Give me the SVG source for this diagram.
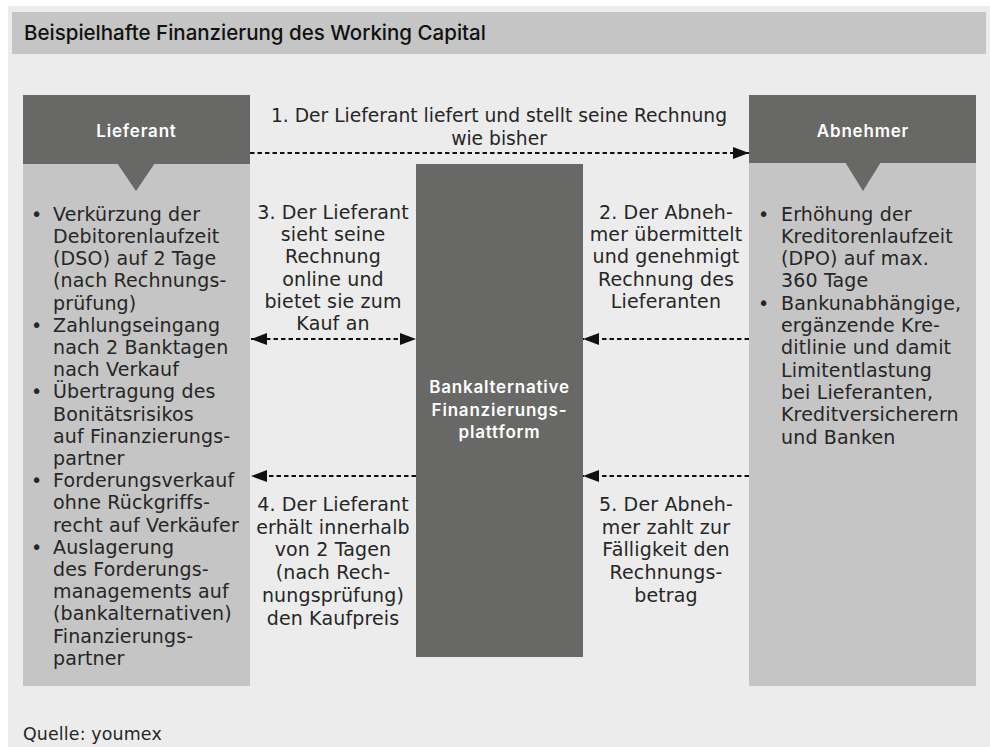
<svg xmlns="http://www.w3.org/2000/svg" width="990" height="747" viewBox="0 0 990 747">
<defs>
<style>
.t{font-family:"DejaVu Sans","Liberation Sans",sans-serif;font-size:19px;letter-spacing:0.15px;fill:#262626}
.c{text-anchor:middle}
.h{font-family:Inter,"Liberation Sans",sans-serif;font-weight:600;font-size:17px;letter-spacing:0.8px;fill:#ffffff;text-anchor:middle}
.ttl{font-family:Inter,"Liberation Sans",sans-serif;font-weight:500;font-size:20.5px;fill:#111}
.dark{fill:#686866}
.light{fill:#c4c5c4}
.ar{stroke:#111;stroke-width:1.8;stroke-dasharray:4.5 3;fill:none}
</style>
<marker id="ah" viewBox="0 0 16 12" refX="16" refY="6" markerWidth="16" markerHeight="12" markerUnits="userSpaceOnUse" orient="auto-start-reverse">
<path d="M0,0 L16,6 L0,12 Z" fill="#111"/>
</marker>
</defs>
<rect x="0" y="0" width="990" height="747" fill="#ffffff"/>
<rect x="8" y="6" width="982" height="741" fill="#ececec"/>
<g id="title">
<rect x="12" y="12" width="974" height="42" fill="#c4c5c4"/>
<text class="ttl" x="24" y="40">Beispielhafte Finanzierung des Working Capital</text>
</g>
<g id="lieferant">
<rect class="light" x="23" y="164" width="227" height="522"/>
<rect class="dark" x="23" y="95" width="227" height="69"/>
<path class="dark" d="M117,163 L155,163 L136,191 Z"/>
<text class="h" x="136.5" y="137">Lieferant</text>
<g class="t">
<text x="31" y="220.7">•</text>
<text x="53" y="220.7">Verkürzung der</text>
<text x="53" y="242.9">Debitorenlaufzeit</text>
<text x="53" y="265.1">(DSO) auf 2 Tage</text>
<text x="53" y="287.3">(nach Rechnungs-</text>
<text x="53" y="309.5">prüfung)</text>
<text x="31" y="331.7">•</text>
<text x="53" y="331.7">Zahlungseingang</text>
<text x="53" y="353.9">nach 2 Banktagen</text>
<text x="53" y="376.1">nach Verkauf</text>
<text x="31" y="398.3">•</text>
<text x="53" y="398.3">Übertragung des</text>
<text x="53" y="420.5">Bonitätsrisikos</text>
<text x="53" y="442.7">auf Finanzierungs-</text>
<text x="53" y="464.9">partner</text>
<text x="31" y="487.1">•</text>
<text x="53" y="487.1">Forderungsverkauf</text>
<text x="53" y="509.3">ohne Rückgriffs-</text>
<text x="53" y="531.5">recht auf Verkäufer</text>
<text x="31" y="553.7">•</text>
<text x="53" y="553.7">Auslagerung</text>
<text x="53" y="575.9">des Forderungs-</text>
<text x="53" y="598.1">managements auf</text>
<text x="53" y="620.3">(bankalternativen)</text>
<text x="53" y="642.5">Finanzierungs-</text>
<text x="53" y="664.7">partner</text>
</g>
</g>
<g id="abnehmer">
<rect class="light" x="749" y="163" width="227" height="523"/>
<rect class="dark" x="749" y="95" width="227" height="68"/>
<path class="dark" d="M845,162 L881,162 L863,191 Z"/>
<text class="h" x="863" y="137">Abnehmer</text>
<g class="t">
<text x="758" y="220.5">•</text>
<text x="781" y="220.5">Erhöhung der</text>
<text x="781" y="242.8">Kreditorenlaufzeit</text>
<text x="781" y="265.1">(DPO) auf max.</text>
<text x="781" y="287.4">360 Tage</text>
<text x="758" y="309.7">•</text>
<text x="781" y="309.7">Bankunabhängige,</text>
<text x="781" y="332">ergänzende Kre-</text>
<text x="781" y="354.3">ditlinie und damit</text>
<text x="781" y="376.6">Limitentlastung</text>
<text x="781" y="398.9">bei Lieferanten,</text>
<text x="781" y="421.2">Kreditversicherern</text>
<text x="781" y="443.5">und Banken</text>
</g>
</g>
<g id="plattform">
<rect class="dark" x="416" y="164" width="167" height="493"/>
<text class="h" x="499.5" y="393">Bankalternative</text>
<text class="h" x="499.5" y="415.7">Finanzierungs-</text>
<text class="h" x="499.5" y="438.3">plattform</text>
</g>
<g id="connectors">
<line class="ar" x1="250" y1="153" x2="749" y2="153" marker-end="url(#ah)"/>
<line class="ar" x1="251" y1="339" x2="416" y2="339" marker-start="url(#ah)" marker-end="url(#ah)"/>
<line class="ar" x1="749" y1="339" x2="583" y2="339" marker-end="url(#ah)"/>
<line class="ar" x1="416" y1="476" x2="251" y2="476" marker-end="url(#ah)"/>
<line class="ar" x1="749" y1="476" x2="583" y2="476" marker-end="url(#ah)"/>
</g>
<g id="labels" class="t c">
<text x="499" y="122" style="font-size:18.7px;letter-spacing:0">1. Der Lieferant liefert und stellt seine Rechnung</text>
<text x="499" y="145" style="font-size:18.7px;letter-spacing:0">wie bisher</text>
<text x="333" y="219">3. Der Lieferant</text>
<text x="333" y="241.2">sieht seine</text>
<text x="333" y="263.4">Rechnung</text>
<text x="333" y="285.6">online und</text>
<text x="333" y="307.8">bietet sie zum</text>
<text x="333" y="330">Kauf an</text>
<text x="666" y="219">2. Der Abneh-</text>
<text x="666" y="241.2">mer übermittelt</text>
<text x="666" y="263.4">und genehmigt</text>
<text x="666" y="285.6">Rechnung des</text>
<text x="666" y="307.8">Lieferanten</text>
<text x="333" y="511">4. Der Lieferant</text>
<text x="333" y="533.7">erhält innerhalb</text>
<text x="333" y="556.4">von 2 Tagen</text>
<text x="333" y="579.1">(nach Rech-</text>
<text x="333" y="601.8">nungsprüfung)</text>
<text x="333" y="624.5">den Kaufpreis</text>
<text x="666" y="511">5. Der Abneh-</text>
<text x="666" y="533.7">mer zahlt zur</text>
<text x="666" y="556.4">Fälligkeit den</text>
<text x="666" y="579.1">Rechnungs-</text>
<text x="666" y="601.8">betrag</text>
</g>
<text class="t" x="23" y="740" style="font-size:17.4px">Quelle: youmex</text>
</svg>
